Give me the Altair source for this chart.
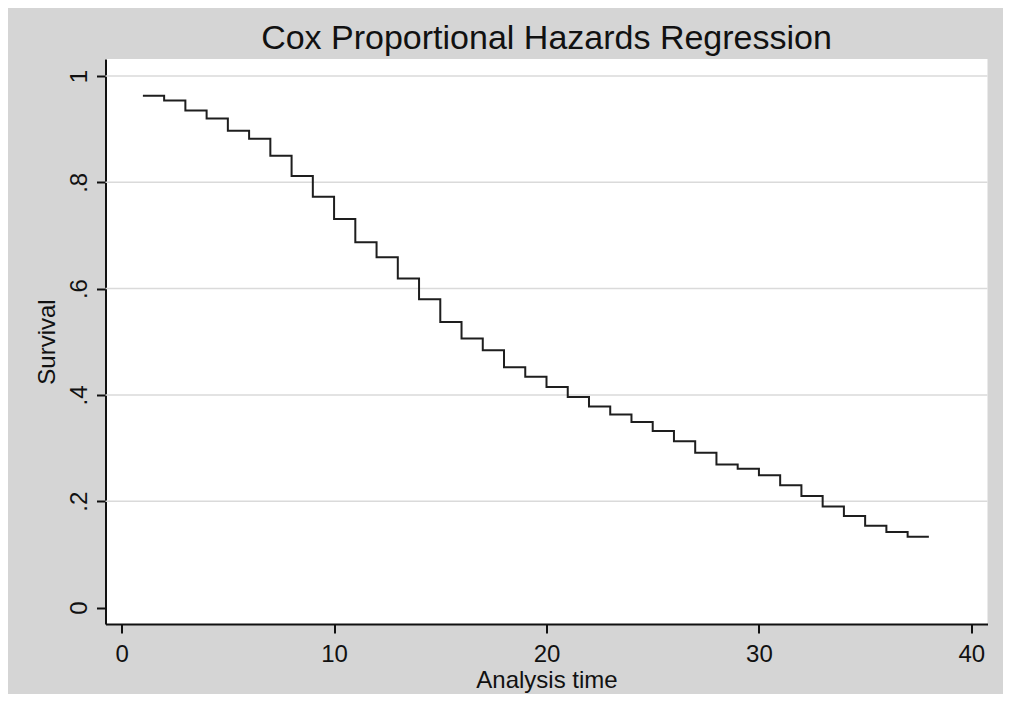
import altair as alt
import pandas as pd

# ---- data ----
times = list(range(1, 39))
survival = [0.963, 0.954, 0.935, 0.920, 0.897, 0.882, 0.850, 0.812, 0.773, 0.731,
            0.687, 0.659, 0.619, 0.580, 0.537, 0.506, 0.484, 0.452, 0.434, 0.415,
            0.396, 0.378, 0.363, 0.349, 0.332, 0.313, 0.291, 0.269, 0.261, 0.249,
            0.230, 0.210, 0.190, 0.172, 0.154, 0.142, 0.133, 0.133]
x_ticks = [0, 10, 20, 30, 40]
y_ticks = [0, 0.2, 0.4, 0.6, 0.8, 1.0]
grid_values = [0.2, 0.4, 0.6, 0.8, 1.0]

FONT = "Liberation Sans"

df = pd.DataFrame({"time": times, "survival": survival})
grid_df = pd.DataFrame({"g": grid_values})

xscale = alt.Scale(domain=[-0.76, 40.76], nice=False, zero=False)
yscale = alt.Scale(domain=[-0.031, 1.032], nice=False, zero=False)

x_axis = alt.Axis(values=x_ticks, title="Analysis time", format="d",
                  labelPadding=9, titleY=63, titleBaseline="alphabetic")
y_axis = alt.Axis(values=y_ticks, title="Survival", labelAngle=270,
                  labelAlign="center", labelBaseline="alphabetic", labelPadding=10,
                  labelExpr="datum.value == 0 ? '0' : datum.value == 1 ? '1' : '.' + format(datum.value * 10, 'd')",
                  titleAngle=270, titleAlign="center", titleBaseline="alphabetic",
                  titleX=-51.5, titleY=282.5)

grid = alt.Chart(grid_df).mark_rule(color="#dadada", strokeWidth=1.5).encode(
    y=alt.Y("g:Q", scale=yscale, axis=y_axis)
)

line = alt.Chart(df).mark_line(interpolate="step-after", color="#1e1e1e", strokeWidth=2).encode(
    x=alt.X("time:Q", scale=xscale, axis=x_axis),
    y=alt.Y("survival:Q", scale=yscale, axis=y_axis),
)

chart = alt.layer(grid, line).properties(
    width=882,
    height=565,
    padding={"left": 97.5, "top": 51, "right": 15, "bottom": 70},
    autosize=alt.AutoSizeParams(type="none"),
    background="#d5d5d5",
    title=alt.Title("Cox Proportional Hazards Regression", fontSize=34, font=FONT,
                    fontWeight="normal", color="#111111", anchor="middle",
                    baseline="alphabetic", offset=12, dy=36),
).configure_view(
    fill="white", strokeWidth=0
).configure_axis(
    domainColor="#111111", domainWidth=2, tickColor="#111111", tickWidth=2, tickSize=9,
    labelFont=FONT, labelFontSize=24, labelColor="#111111",
    titleFont=FONT, titleFontSize=24, titleFontWeight="normal", titleColor="#111111",
    grid=False,
)

chart.save("out.html", embed_options={"renderer": "svg", "actions": False})
